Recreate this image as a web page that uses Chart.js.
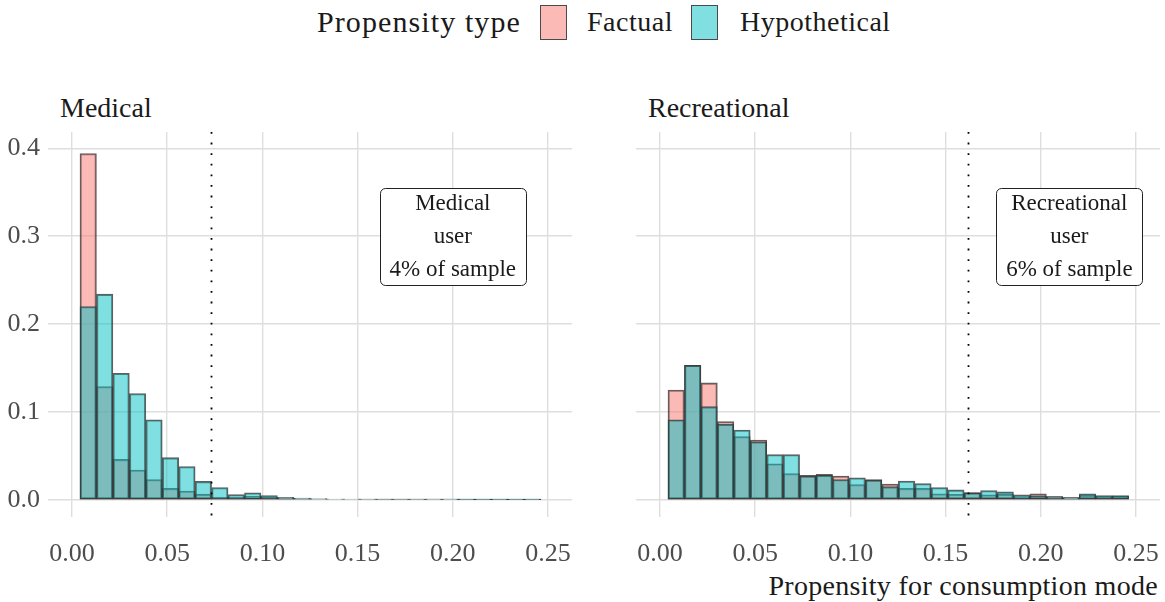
<!DOCTYPE html>
<html>
<head>
<meta charset="utf-8">
<script src="https://cdn.jsdelivr.net/npm/chart.js@4.4.1/dist/chart.umd.min.js"></script>
<style>
  body { margin: 0; background: #fff; width: 1165px; height: 602px; position: relative; overflow: hidden;
         font-family: "Liberation Serif", serif; color: #1a1a1a; }
  canvas { position: absolute; top: 0; }
  #medicalChart { left: 0; }
  #recreationalChart { left: 580px; }
  .txt { position: absolute; white-space: nowrap; }
  .key { position: absolute; top: 5px; width: 27px; height: 35px; border: 1.6px solid #4a4a4a; box-sizing: border-box; }
</style>
</head>
<body>
<div class="txt" style="left:317px; top:0; line-height:44px; font-size:30px; letter-spacing:1.1px">Propensity type</div>
<div class="key" style="left:540px; background:rgba(248,118,109,0.5)"></div>
<div class="txt" style="left:587px; top:0; line-height:44px; font-size:28px; letter-spacing:0.5px">Factual</div>
<div class="key" style="left:691px; background:rgba(0,191,196,0.5)"></div>
<div class="txt" style="left:740px; top:0; line-height:44px; font-size:28px; letter-spacing:0.5px">Hypothetical</div>

<div class="txt" style="left:60px; top:91px; line-height:34px; font-size:28px">Medical</div>
<div class="txt" style="left:648px; top:91px; line-height:34px; font-size:28px">Recreational</div>
<div class="txt" style="right:7px; top:569px; line-height:34px; font-size:28px; letter-spacing:0.3px">Propensity for consumption mode</div>

<canvas id="medicalChart" width="580" height="602"></canvas>
<canvas id="recreationalChart" width="585" height="602"></canvas>

<script>
// histogram bins (centres) and axis ticks
const binCenters = [0.00852, 0.01716, 0.0258, 0.03444, 0.04308, 0.05172, 0.06036, 0.069, 0.07764, 0.08628,
                    0.09492, 0.10356, 0.1122, 0.12084, 0.12948, 0.13812, 0.14676, 0.1554, 0.16404, 0.17268,
                    0.18132, 0.18996, 0.1986, 0.20724, 0.21588, 0.22452, 0.23316, 0.2418];
const xTicks = [0, 0.05, 0.1, 0.15, 0.2, 0.25];
const yTicks = [0, 0.1, 0.2, 0.3, 0.4];

// relative frequencies per bin
const medicalFactual = [0.394, 0.129, 0.046, 0.034, 0.023, 0.013, 0.010, 0.0065, 0.003, 0.003,
                        0.004, 0.003, 0.002, 0.0015, 0.001, 0.001, 0.0008, 0.0006, 0.0005, 0.0005,
                        0.0004, 0.0004, 0.0004, 0.0003, 0.0003, 0.0003, 0.0003, 0.0003];
const medicalHypothetical = [0.220, 0.234, 0.144, 0.121, 0.091, 0.048, 0.038, 0.021, 0.014, 0.006,
                             0.008, 0.005, 0.003, 0.002, 0.0015, 0.001, 0.001, 0.0008, 0.0006, 0.0005,
                             0.0005, 0.0004, 0.0004, 0.0003, 0.0003, 0.0003, 0.0003, 0.0003];
const recreationalFactual = [0.125, 0.153, 0.133, 0.089, 0.072, 0.068, 0.041, 0.030, 0.028, 0.029,
                             0.027, 0.0175, 0.023, 0.018, 0.013, 0.013, 0.007, 0.0064, 0.0083, 0.0057,
                             0.0064, 0.0038, 0.0068, 0.0038, 0.0026, 0.0053, 0.0038, 0.004];
const recreationalHypothetical = [0.091, 0.153, 0.106, 0.086, 0.0795, 0.066, 0.0515, 0.0515, 0.027, 0.028,
                                  0.023, 0.025, 0.0225, 0.015, 0.0215, 0.0185, 0.014, 0.0113, 0.008, 0.0106,
                                  0.009, 0.0057, 0.0045, 0.0038, 0.0026, 0.0068, 0.005, 0.005];

// user thresholds and annotation labels
const medicalCutoff = 0.0728;
const recreationalCutoff = 0.1616;
const medicalLabel = ['Medical', 'user', '4% of sample'];
const recreationalLabel = ['Recreational', 'user', '6% of sample'];
const medicalLabelPos = [0.2, 0.3];
const recreationalLabelPos = [0.215, 0.3];

Chart.defaults.font.family = '"Liberation Serif", serif';

const panelExtras = {
    id: 'panelExtras',
    afterDatasetsDraw(chart, args, opts) {
        const { ctx, chartArea, scales: { x, y } } = chart;
        ctx.save();

        // dotted threshold line
        const cx = Math.round(x.getPixelForValue(opts.cutoff)) + 0.5;
        ctx.strokeStyle = '#000';
        ctx.lineWidth = 1.8;
        ctx.setLineDash([1.8, 8.8]);
        ctx.beginPath();
        ctx.moveTo(cx, chartArea.top);
        ctx.lineTo(cx, chartArea.bottom);
        ctx.stroke();

        // label box
        ctx.setLineDash([]);
        ctx.font = '23px "Liberation Serif"';
        const w = Math.round(Math.max(...opts.lines.map(t => ctx.measureText(t).width)) + 20);
        const h = 97;
        const mx = x.getPixelForValue(opts.pos[0]);
        const my = y.getPixelForValue(opts.pos[1]);
        const bx = Math.round(mx - w / 2) + 0.5;
        const by = Math.round(my - h / 2) + 0.5;
        ctx.beginPath();
        ctx.roundRect(bx, by, w, h, 5);
        ctx.fillStyle = '#fff';
        ctx.fill();
        ctx.strokeStyle = '#222';
        ctx.lineWidth = 1;
        ctx.stroke();
        ctx.fillStyle = '#1a1a1a';
        ctx.textAlign = 'center';
        ctx.textBaseline = 'middle';
        opts.lines.forEach((t, i) => ctx.fillText(t, mx, my + (i - 1) * 33 + 1));
        ctx.restore();
    }
};

function histData(values) {
    return binCenters.map((c, i) => ({ x: c, y: values[i] }));
}

function makeChart(id, factual, hypothetical, showY, yWidth, rightPad, cutoff, lines, pos) {
    const barStyle = {
        borderColor: 'rgba(55,55,55,0.8)',
        borderWidth: 1.4,
        borderSkipped: false,
        barPercentage: 1,
        categoryPercentage: 1,
        grouped: false
    };
    return new Chart(document.getElementById(id), {
        type: 'bar',
        data: {
            datasets: [
                { label: 'Hypothetical', data: histData(hypothetical), backgroundColor: 'rgba(0,191,196,0.5)', order: 0, ...barStyle },
                { label: 'Factual', data: histData(factual), backgroundColor: 'rgba(248,118,109,0.5)', order: 1, ...barStyle }
            ]
        },
        options: {
            responsive: false,
            animation: false,
            layout: { padding: { top: 132, right: rightPad, bottom: 0, left: 0 } },
            plugins: {
                legend: { display: false },
                tooltip: { enabled: false },
                panelExtras: { cutoff: cutoff, lines: lines, pos: pos }
            },
            scales: {
                x: {
                    type: 'linear',
                    offset: false,
                    min: -0.0126,
                    max: 0.2626,
                    afterBuildTicks: s => { s.ticks = xTicks.map(v => ({ value: v })); },
                    afterFit: s => { s.height = 85; s.paddingLeft = 0; s.paddingRight = 0; },
                    grid: { color: '#dedede', lineWidth: 1.4, drawTicks: true, tickLength: 22, tickColor: 'rgba(0,0,0,0)', offset: false },
                    border: { display: false },
                    ticks: {
                        padding: 0,
                        color: '#4d4d4d',
                        font: { size: 26, lineHeight: 1.2 },
                        maxRotation: 0,
                        callback: v => v.toFixed(2)
                    }
                },
                y: {
                    min: -0.0195,
                    max: 0.4185,
                    afterBuildTicks: s => { s.ticks = yTicks.map(v => ({ value: v })); },
                    afterFit: s => { s.width = yWidth; s.paddingTop = 0; s.paddingBottom = 0; },
                    grid: { color: '#dedede', lineWidth: 1.4, drawTicks: false },
                    border: { display: false },
                    ticks: {
                        display: showY,
                        padding: 8,
                        color: '#4d4d4d',
                        font: { size: 26 },
                        callback: v => v.toFixed(1)
                    }
                }
            }
        },
        plugins: [panelExtras]
    });
}

makeChart('medicalChart', medicalFactual, medicalHypothetical, true, 48, 8, medicalCutoff, medicalLabel, medicalLabelPos);
makeChart('recreationalChart', recreationalFactual, recreationalHypothetical, false, 56, 5, recreationalCutoff, recreationalLabel, recreationalLabelPos);
</script>
</body>
</html>
